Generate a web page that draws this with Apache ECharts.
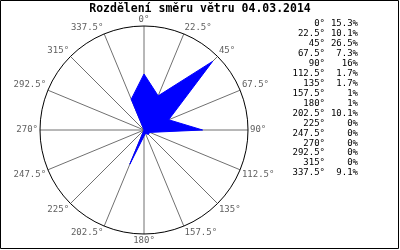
<!DOCTYPE html>
<html><head><meta charset="utf-8">
<script src="https://cdn.jsdelivr.net/npm/echarts@6/dist/echarts.min.js"></script>
<style>html,body{margin:0;padding:0;background:#fff}#c{width:400px;height:250px}</style>
</head><body><div id="c"></div>
<script>
var titleText = 'Rozdělení směru větru 04.03.2014';
var directions = [0, 22.5, 45, 67.5, 90, 112.5, 135, 157.5, 180, 202.5, 225, 247.5, 270, 292.5, 315, 337.5];
var shares = [15.3, 10.1, 26.5, 7.3, 16, 1.7, 1.7, 1, 1, 10.1, 0, 0, 0, 0, 0, 9.1];
var radiusMax = 28.4;

var chart = echarts.init(document.getElementById('c'), null, {renderer: 'canvas'});
var lineData = directions.map(function (d, i) { return [shares[i], d]; });
lineData.push([shares[0], 360]);

var mono = '"DejaVu Sans Mono", monospace';
var legendEls = [];
directions.forEach(function (d, i) {
  var y = 24 + i * 9.93;
  legendEls.push({type: 'text', x: 325, y: y, style: {text: d + '°', font: '9px ' + mono, fill: '#000', align: 'right', verticalAlign: 'middle'}});
  legendEls.push({type: 'text', x: 358, y: y, style: {text: shares[i] + '%', font: '9px ' + mono, fill: '#000', align: 'right', verticalAlign: 'middle'}});
});

chart.setOption({
  animation: false,
  title: {text: titleText, left: 'center', top: 3, padding: 0, textStyle: {fontFamily: mono, fontSize: 11.5, fontWeight: 'bold', color: '#000'}},
  polar: {center: [144, 130], radius: 104},
  angleAxis: {
    type: 'value', min: 0, max: 360, interval: 22.5, startAngle: 90, clockwise: true,
    axisLine: {show: true, lineStyle: {color: '#000', width: 1}},
    axisTick: {show: false},
    splitLine: {show: true, lineStyle: {color: '#707070', width: 1}},
    axisLabel: {
      show: true, margin: 2, color: '#606060', fontFamily: mono, fontSize: 9,
      formatter: function (v) { return v >= 360 ? '' : v + '°'; }
    }
  },
  radiusAxis: {type: 'value', min: 0, max: radiusMax, show: false, splitLine: {show: false}},
  series: [{
    type: 'line', coordinateSystem: 'polar', data: lineData, symbol: 'none', silent: true,
    lineStyle: {color: '#0000ff', width: 1}, areaStyle: {color: '#0000ff', opacity: 1}
  }],
  graphic: [
    {type: 'rect', shape: {x: 0.5, y: 0.5, width: 398, height: 248}, style: {fill: 'none', stroke: '#000', lineWidth: 1}, z: 100},
    {type: 'group', children: legendEls}
  ]
});
</script></body></html>
